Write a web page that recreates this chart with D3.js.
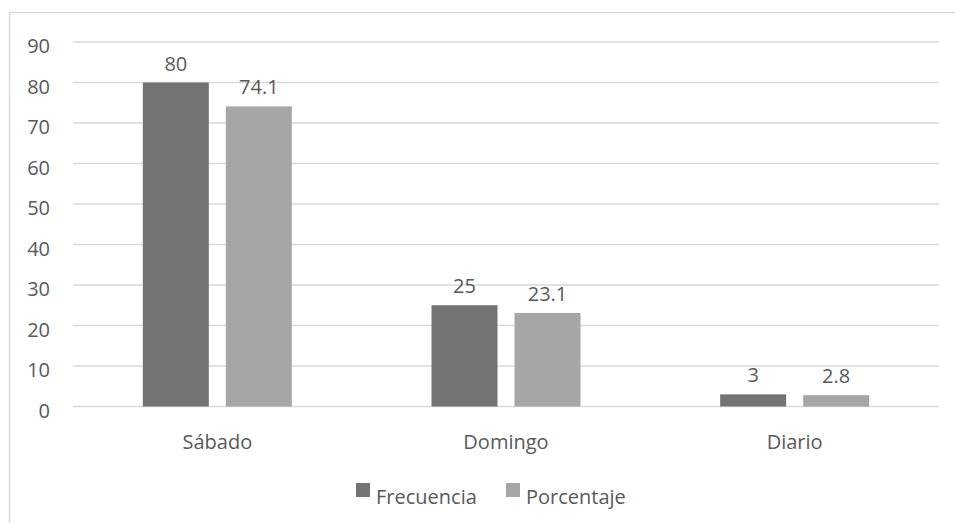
<!DOCTYPE html>
<html>
<head>
<meta charset="utf-8">
<script src="https://cdn.jsdelivr.net/npm/d3@7"></script>
<style>
  html, body { margin: 0; padding: 0; background: #fff; }
  svg { display: block; }
  text { font-family: "Open Sans", sans-serif; fill: #595959; }
</style>
</head>
<body>
<svg id="chart" width="955" height="523"></svg>
<script>
const categories = ["Sábado", "Domingo", "Diario"];
const seriesNames = ["Frecuencia", "Porcentaje"];
const frecuencia = [80, 25, 3];
const porcentaje = [74.1, 23.1, 2.8];
const yTicks = [0, 10, 20, 30, 40, 50, 60, 70, 80, 90];
const colors = ["#737373", "#a6a6a6"];

(function () {
const svg = d3.select("#chart");
const W = 955, H = 523;
const plotLeft = 73, plotRight = 939, plotTop = 42, plotBottom = 406.5;

// outer border
svg.append("rect")
  .attr("x", 9.5).attr("y", 12.5)
  .attr("width", W + 10).attr("height", H + 10)
  .attr("fill", "none").attr("stroke", "#d9d9d9").attr("stroke-width", 1.5);

const y = d3.scaleLinear().domain([0, 90]).range([plotBottom, plotTop]);
const x = d3.scaleBand().domain(categories).range([plotLeft, plotRight]).paddingInner(0).paddingOuter(0);
const groupW = 149;
const xs = d3.scaleBand().domain(seriesNames)
  .range([x.bandwidth() / 2 - groupW / 2, x.bandwidth() / 2 + groupW / 2])
  .paddingInner(0.205).paddingOuter(0);

// gridlines
svg.append("g").selectAll("line").data(yTicks).join("line")
  .attr("x1", plotLeft).attr("x2", plotRight)
  .attr("y1", d => y(d)).attr("y2", d => y(d))
  .attr("stroke", "#d9d9d9").attr("stroke-width", 1.5);

// y tick labels
svg.append("g").selectAll("text").data(yTicks).join("text")
  .attr("x", 50).attr("y", d => y(d) + 11)
  .attr("text-anchor", "end").attr("font-size", 20)
  .text(d => d);

const data = categories.map((c, i) => ({
  cat: c,
  vals: [
    { s: seriesNames[0], v: frecuencia[i] },
    { s: seriesNames[1], v: porcentaje[i] }
  ]
}));

const groups = svg.append("g").selectAll("g").data(data).join("g")
  .attr("transform", d => `translate(${x(d.cat)},0)`);

groups.selectAll("rect").data(d => d.vals).join("rect")
  .attr("x", d => xs(d.s))
  .attr("width", xs.bandwidth())
  .attr("y", d => y(d.v))
  .attr("height", d => y(0) - y(d.v))
  .attr("fill", (d, i) => colors[i]);

groups.selectAll("text.val").data(d => d.vals).join("text")
  .attr("class", "val")
  .attr("x", d => xs(d.s) + xs.bandwidth() / 2)
  .attr("y", d => y(d.v) - 12)
  .attr("text-anchor", "middle").attr("font-size", 20)
  .text(d => d.v);

// category labels
svg.append("g").selectAll("text").data(categories).join("text")
  .attr("x", d => x(d) + x.bandwidth() / 2)
  .attr("y", 449)
  .attr("text-anchor", "middle").attr("font-size", 20)
  .text(d => d);

// legend
const legendX = [356, 506];
const leg = svg.append("g").selectAll("g").data(seriesNames).join("g")
  .attr("transform", (d, i) => `translate(${legendX[i]},483)`);
leg.append("rect").attr("width", 14).attr("height", 14)
  .attr("fill", (d, i) => colors[i]);
leg.append("text").attr("x", 20).attr("y", 21)
  .attr("font-size", 20).text(d => d);
})();
</script>
</body>
</html>
